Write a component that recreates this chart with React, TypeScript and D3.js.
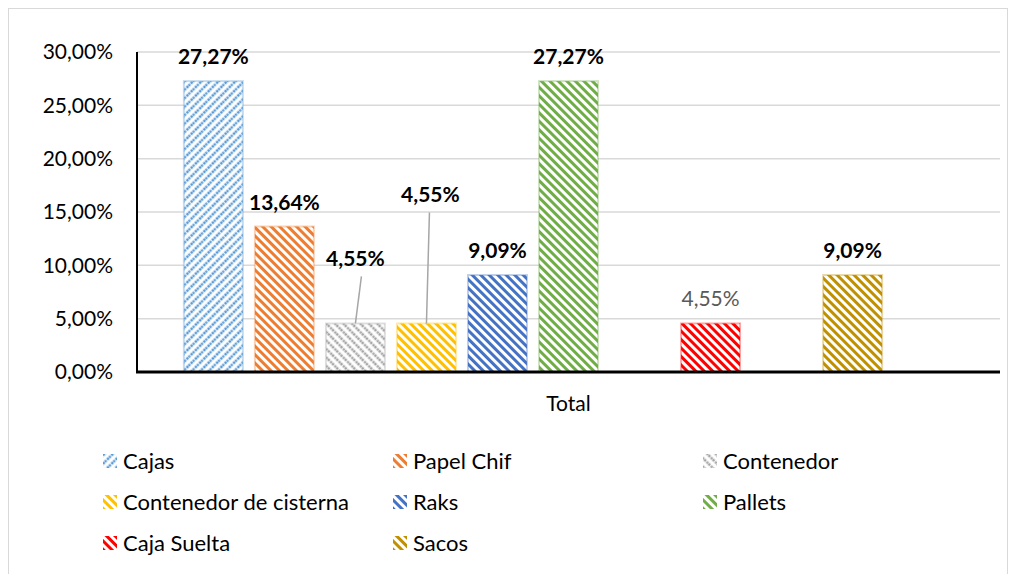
import React from "react";
import * as d3 from "d3";

// series in plot order (three empty slots hidden from the legend)
const seriesNames = ["Cajas", "Papel Chif", "Contenedor", "Contenedor de cisterna", "Raks", "Pallets", "", "Caja Suelta", "", "Sacos", ""];
const seriesValues = [0.2727, 0.1364, 0.0455, 0.0455, 0.0909, 0.2727, null, 0.0455, null, 0.0909, null];
const seriesColors = ["#5B9BD5", "#ED7D31", "#A5A5A5", "#FFC000", "#4472C4", "#70AD47", "#000", "#FF0000", "#000", "#BF9000", "#000"];
const category = "Total";
const yTicks = [0, 0.05, 0.1, 0.15, 0.2, 0.25, 0.3];

const W = 1009, H = 574;
const margin = { top: 52, right: 9, bottom: 202, left: 137 };
const font = "Lato, 'Noto Sans', sans-serif";

const loc = d3.formatLocale({ decimal: ",", thousands: ".", grouping: [3], currency: ["", "€"] });
const pct = loc.format(".2%");

// data labels that were dragged up with a leader line
const lifted: Record<number, number> = { 2: 40, 3: 104 };

export default function App() {
  const x = d3.scaleBand<number>()
    .domain(seriesNames.map((_, i) => i))
    .range([margin.left, W - margin.right])
    .paddingInner(0.17)
    .paddingOuter(0.66);
  const y = d3.scaleLinear().domain([0, 0.3]).range([H - margin.bottom, margin.top]);

  const legend = seriesNames.map((n, i) => ({ n, i })).filter(d => d.n !== "");

  return (
    <svg width={W} height={H} style={{ position: "absolute", left: 0, top: 0 }} fontFamily={font}>
      <defs>
        {seriesColors.map((c, i) => (
          <pattern key={i} id={"pat" + i} patternUnits="userSpaceOnUse" width={6} height={6}
            patternTransform={i === 0 ? "rotate(45)" : "rotate(-45)"}>
            <rect width={6} height={6} fill="#fff" />
            {i === 0 || i === 2 ? (
              <line x1={2} y1={0} x2={2} y2={6} stroke={c} strokeWidth={2.6} strokeDasharray="2.2 1" />
            ) : (
              <rect x={0} y={0} width={3} height={6} fill={c} />
            )}
          </pattern>
        ))}
      </defs>
      <rect x={8.5} y={8.5} width={W - 10} height={H - 8} fill="#fff" stroke="#D9D9D9" />

      {yTicks.map(t => (
        <g key={t}>
          {t > 0 && <line x1={margin.left} x2={W - margin.right} y1={y(t)} y2={y(t)} stroke="#D9D9D9" strokeWidth={1.5} />}
          <text x={113} y={y(t)} dy="0.35em" textAnchor="end" fontSize={21} fill="#000">{pct(t)}</text>
        </g>
      ))}

      {seriesValues.map((v, i) => v == null ? null : (
        <g key={i}>
          <rect x={x(i)} y={y(v)} width={x.bandwidth()} height={y(0) - y(v)}
            fill={`url(#pat${i})`} stroke={seriesColors[i]} strokeOpacity={0.35} strokeWidth={2} />
        </g>
      ))}

      <line x1={margin.left} x2={margin.left} y1={margin.top} y2={y(0)} stroke="#000" strokeWidth={2} />
      <line x1={margin.left - 1} x2={W - margin.right} y1={y(0)} y2={y(0)} stroke="#000" strokeWidth={3} />

      {seriesValues.map((v, i) => {
        if (v == null) return null;
        const cx = x(i)! + x.bandwidth() / 2;
        const lift = lifted[i] || 0;
        const base = y(v) - 17 - lift;
        const plain = seriesNames[i] === "Caja Suelta";
        return (
          <g key={"l" + i}>
            {lift > 0 && <line x1={cx + (i === 2 ? 6 : 3)} y1={base + 10} x2={cx} y2={y(v)} stroke="#A6A6A6" strokeWidth={1.5} />}
            <text x={cx + (i === 3 ? 4 : 0)} y={base} textAnchor="middle" fontSize={21}
              fontWeight={plain ? "normal" : "bold"} fill={plain ? "#595959" : "#000"}>{pct(v)}</text>
          </g>
        );
      })}

      <text x={(margin.left + W - margin.right) / 2} y={404} dy="0.35em" textAnchor="middle" fontSize={21}>{category}</text>

      {legend.map((d, k) => {
        const col = k % 3, row = Math.floor(k / 3);
        const lx = [103, 393, 703][col];
        const ly = 461 + row * 41;
        return (
          <g key={d.n} transform={`translate(${lx},${ly})`}>
            <rect x={0} y={-7} width={14} height={14} fill={`url(#pat${d.i})`} />
            <text x={20} y={0} dy="0.35em" fontSize={22} fill="#000">{d.n}</text>
          </g>
        );
      })}
    </svg>
  );
}
